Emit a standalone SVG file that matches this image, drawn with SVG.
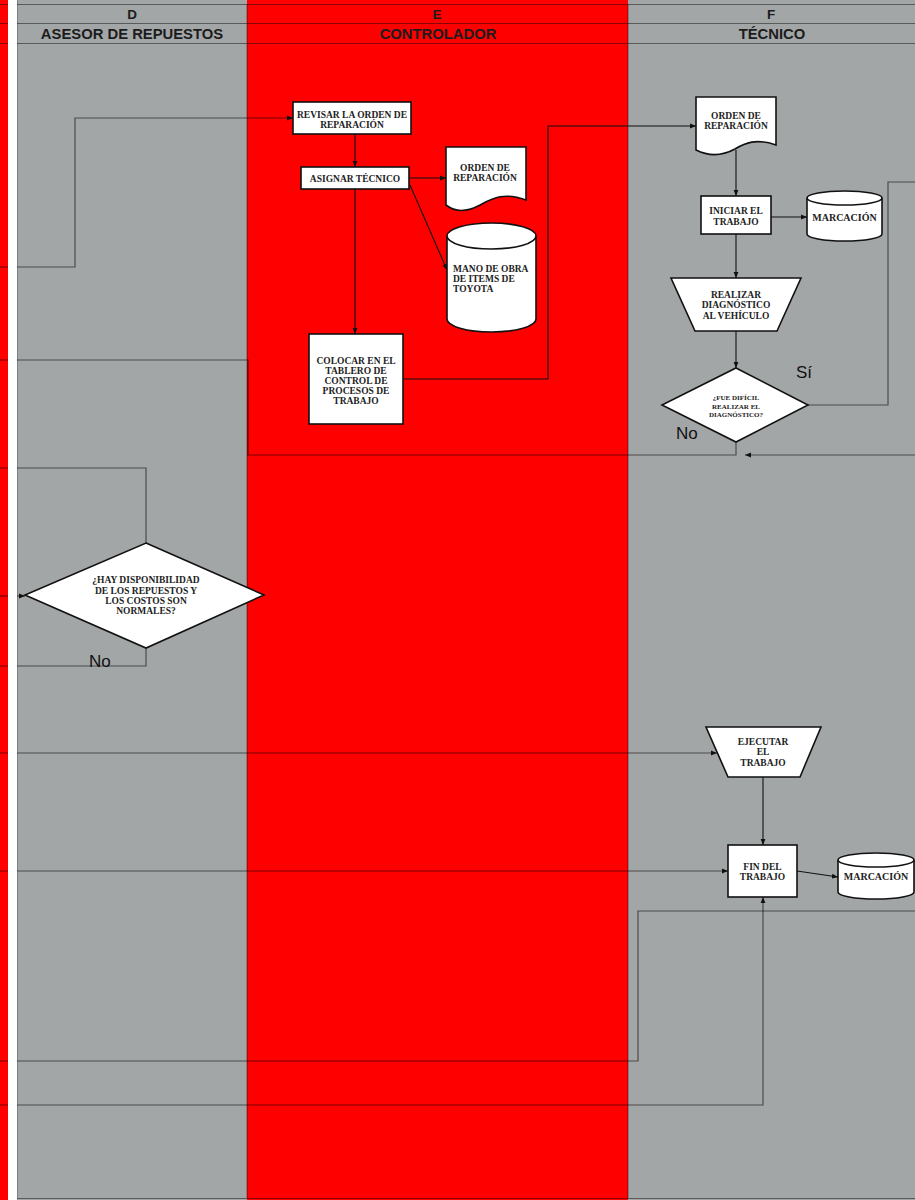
<svg xmlns="http://www.w3.org/2000/svg" width="915" height="1200" viewBox="0 0 915 1200">
<defs>
<marker id="arr" viewBox="0 0 10 10" refX="10" refY="5" markerWidth="6" markerHeight="6" markerUnits="userSpaceOnUse" orient="auto"><path d="M0,1 L10,5 L0,9 Z" fill="#111"/></marker>
<style>
.lg{fill:#a3a6a7}
.lr{fill:#fe0000}
.grid{stroke:#000;stroke-opacity:.45;stroke-width:1;fill:none}
.hd{font-family:"Liberation Sans",Arial,sans-serif;font-weight:bold;fill:#1c1c1c;text-anchor:middle}
.node{fill:#fff;stroke:#111;stroke-width:1.6}
.t{font-family:"Liberation Serif","Times New Roman",serif;font-weight:bold;font-size:9.5px;fill:#222;text-anchor:middle}
.ts{text-anchor:start}
.t6{font-size:7px}
.t10{font-size:10px}
.c{fill:none;stroke:#111;stroke-width:1.1}
.cl{fill:none;stroke:#000;stroke-opacity:.55;stroke-width:1.2}
.lbl{font-family:"Liberation Sans",Arial,sans-serif;font-size:17px;fill:#111}
</style>
</defs>
<g id="background">
<rect x="0" y="0" width="915" height="1200" fill="#fff"/>
<rect x="0" y="0" width="8" height="1200" class="lr"/>
<rect x="17" y="0" width="230" height="1200" class="lg"/>
<rect x="247" y="0" width="381" height="1200" class="lr"/>
<rect x="628" y="0" width="287" height="1200" class="lg"/>
<path class="grid" d="M0,4.5H915M0,23.5H915M0,43.5H915M17,0V1198M247,4V1198M628,4V1198M17,1198.5H915"/>
<text class="hd" x="132" y="19" font-size="13.5">D</text>
<text class="hd" x="132" y="39" font-size="14.8">ASESOR DE REPUESTOS</text>
<text class="hd" x="437" y="19" font-size="13.5">E</text>
<text class="hd" x="438" y="39" font-size="14.8">CONTROLADOR</text>
<text class="hd" x="771" y="19" font-size="13.5">F</text>
<text class="hd" x="772" y="39" font-size="14.8">TÉCNICO</text>
</g>
<g id="connectors">
<path class="cl" d="M0,267H75V118H293" marker-end="url(#arr)"/>
<path class="c" d="M355,134V167" marker-end="url(#arr)"/>
<path class="c" d="M409,178H446" marker-end="url(#arr)"/>
<path class="c" d="M410,185L447,270" marker-end="url(#arr)"/>
<path class="c" d="M355,189V334" marker-end="url(#arr)"/>
<path class="c" d="M403,379H548V126H696" marker-end="url(#arr)"/>
<path class="c" d="M736,150V196" marker-end="url(#arr)"/>
<path class="c" d="M771,217H807" marker-end="url(#arr)"/>
<path class="c" d="M736,234V278" marker-end="url(#arr)"/>
<path class="c" d="M736,331V368" marker-end="url(#arr)"/>
<path class="cl" d="M808,405H888V182H915"/>
<path class="cl" d="M736,442V455H248V360H0"/>
<path class="cl" d="M915,455H745" marker-end="url(#arr)"/>
<path class="cl" d="M0,468H146V543"/>
<path class="cl" d="M0,596H25" marker-end="url(#arr)"/>
<path class="cl" d="M146,648V666H0"/>
<path class="cl" d="M0,753H717" marker-end="url(#arr)"/>
<path class="c" d="M763,777V845" marker-end="url(#arr)"/>
<path class="cl" d="M0,871H728" marker-end="url(#arr)"/>
<path class="c" d="M797,871L838,877" marker-end="url(#arr)"/>
<path class="cl" d="M0,1061H638V911H915"/>
<path class="cl" d="M0,1105H763V897" marker-end="url(#arr)"/>
</g>
<rect id="gap" x="8" y="0" width="9" height="1200" fill="#fff"/>
<g id="revisar">
<rect class="node" x="293" y="102" width="118" height="32"/>
<text class="t" x="352" y="118">REVISAR LA ORDEN DE</text>
<text class="t" x="352" y="128">REPARACIÓN</text>
</g>
<g id="asignar">
<rect class="node" x="301" y="167" width="108" height="22"/>
<text class="t" x="355" y="182">ASIGNAR TÉCNICO</text>
</g>
<g id="orden-e">
<path class="node" d="M446,147H526V200C502,191 490,200 478,206C466,212 455,212 446,205Z"/>
<text class="t" x="485" y="171">ORDEN DE</text>
<text class="t" x="485" y="181">REPARACIÓN</text>
</g>
<g id="mano-obra">
<path class="node" d="M447,236A44.5,13 0 0 1 536,236V319A44.5,13 0 0 1 447,319Z"/>
<path class="node" fill="none" d="M447,236A44.5,13 0 0 0 536,236"/>
<text class="t ts" x="453" y="272">MANO DE OBRA</text>
<text class="t ts" x="453" y="282">DE ITEMS DE</text>
<text class="t ts" x="453" y="292">TOYOTA</text>
</g>
<g id="colocar">
<rect class="node" x="309" y="334" width="94" height="90"/>
<text class="t" x="356" y="363.5">COLOCAR EN EL</text>
<text class="t" x="356" y="374">TABLERO DE</text>
<text class="t" x="356" y="384">CONTROL DE</text>
<text class="t" x="356" y="394">PROCESOS DE</text>
<text class="t" x="356" y="404">TRABAJO</text>
</g>
<g id="orden-f">
<path class="node" d="M696,97H776V145C756,138 745,143 735,149C722,156 708,156 696,150Z"/>
<text class="t" x="736" y="119">ORDEN DE</text>
<text class="t" x="736" y="129">REPARACIÓN</text>
</g>
<g id="iniciar">
<rect class="node" x="701" y="196" width="70" height="38"/>
<text class="t" x="736" y="214">INICIAR EL</text>
<text class="t" x="736" y="225">TRABAJO</text>
</g>
<g id="marcacion-1">
<path class="node" d="M807,198A37.5,7 0 0 1 882,198V234A37.5,7 0 0 1 807,234Z"/>
<path class="node" fill="none" d="M807,198A37.5,7 0 0 0 882,198"/>
<text class="t t10" x="844.5" y="221">MARCACIÓN</text>
</g>
<g id="realizar">
<polygon class="node" points="671,278 801,278 777,331 695,331"/>
<text class="t" x="736" y="298">REALIZAR</text>
<text class="t" x="736" y="308">DIAGNÓSTICO</text>
<text class="t" x="736" y="319">AL VEHÍCULO</text>
</g>
<g id="fue-dificil">
<polygon class="node" points="736,368 808,405 736,442 662,405"/>
<text class="t t6" x="736" y="400">¿FUE DIFÍCIL</text>
<text class="t t6" x="736" y="408.5">REALIZAR EL</text>
<text class="t t6" x="736" y="417">DIAGNÓSTICO?</text>
<text class="lbl" x="796" y="378">Sí</text>
<text class="lbl" x="676" y="439">No</text>
</g>
<g id="hay-disponibilidad">
<polygon class="node" points="146,543 264,595 146,648 25,595"/>
<text class="t" x="146" y="583">¿HAY DISPONIBILIDAD</text>
<text class="t" x="146" y="594">DE LOS REPUESTOS  Y</text>
<text class="t" x="146" y="604">LOS COSTOS SON</text>
<text class="t" x="146" y="614">NORMALES?</text>
<text class="lbl" x="89" y="667">No</text>
</g>
<g id="ejecutar">
<polygon class="node" points="706,727 821,727 800,777 728,777"/>
<text class="t" x="763" y="745">EJECUTAR</text>
<text class="t" x="763" y="755">EL</text>
<text class="t" x="763" y="766">TRABAJO</text>
</g>
<g id="fin">
<rect class="node" x="728" y="845" width="69" height="52"/>
<text class="t" x="762.5" y="870">FIN DEL</text>
<text class="t" x="762.5" y="880">TRABAJO</text>
</g>
<g id="marcacion-2">
<path class="node" d="M838,860A38,7 0 0 1 914,860V892A38,7 0 0 1 838,892Z"/>
<path class="node" fill="none" d="M838,860A38,7 0 0 0 914,860"/>
<text class="t t10" x="876" y="880">MARCACIÓN</text>
</g>
</svg>
